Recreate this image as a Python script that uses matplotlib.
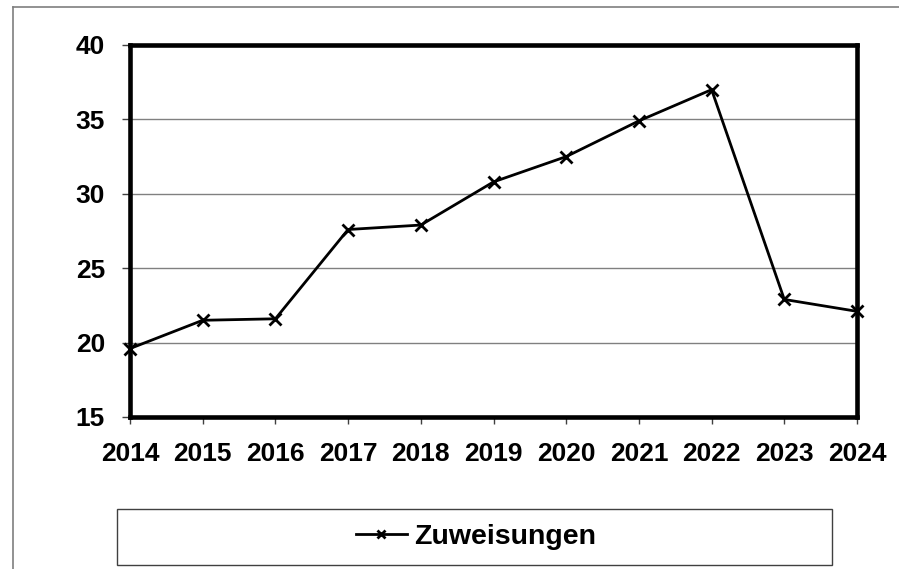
import matplotlib
matplotlib.use("Agg")
import matplotlib.pyplot as plt
from matplotlib.lines import Line2D
from matplotlib.patches import Rectangle

years = [2014, 2015, 2016, 2017, 2018, 2019, 2020, 2021, 2022, 2023, 2024]
zuweisungen = [19.6, 21.5, 21.6, 27.6, 27.9, 30.8, 32.5, 34.9, 37.0, 22.9, 22.1]
y_ticks = [15, 20, 25, 30, 35, 40]
series_label = "Zuweisungen"

plt.rcParams['font.family'] = ['Liberation Sans', 'DejaVu Sans']
plt.rcParams['font.weight'] = 'bold'

W, H = 899, 569
fig = plt.figure(figsize=(W / 100, H / 100), dpi=100)

ax = fig.add_axes([130 / W, 1 - 417 / H, 727 / W, 372 / H])
ax.plot(years, zuweisungen, color='black', lw=2.0, marker='x', ms=9, mew=2.0,
        mec='black', label=series_label, clip_on=False, zorder=5)
ax.set_xlim(years[0], years[-1])
ax.set_ylim(y_ticks[0], y_ticks[-1])
ax.set_xticks(years)
ax.set_yticks(y_ticks)
ax.set_xticklabels([str(y) for y in years])
ax.yaxis.grid(True, color='#808080', lw=1.0)
ax.set_axisbelow(True)
for s in ax.spines.values():
    s.set_linewidth(3.3)
    s.set_color('black')
ax.tick_params(axis='x', direction='out', length=5, width=1, color='#404040',
               labelsize=19, pad=13)
ax.tick_params(axis='y', direction='out', length=6, width=1, color='#404040',
               labelsize=19, pad=12)
for lab in ax.get_xticklabels() + ax.get_yticklabels():
    lab.set_fontweight('bold')

# outer chart frame (left and top visible)
fig.add_artist(Line2D([13 / W, 13 / W], [0, 1 - 7 / H], transform=fig.transFigure,
                      color='#7f7f7f', lw=1.2))
fig.add_artist(Line2D([13 / W, 1], [1 - 7 / H, 1 - 7 / H], transform=fig.transFigure,
                      color='#7f7f7f', lw=1.2))

# legend box
fig.add_artist(Rectangle((117 / W, 1 - 565 / H), 715 / W, 56 / H, transform=fig.transFigure,
                         fill=False, edgecolor='#404040', lw=1.0))
leg = fig.legend(loc='center', bbox_to_anchor=(476 / W, 1 - 537 / H), frameon=False,
                 prop={'size': 20.5, 'weight': 'bold'}, handlelength=1.8,
                 handletextpad=0.25, markerscale=0.65)

fig.savefig("out.png", dpi=100)
